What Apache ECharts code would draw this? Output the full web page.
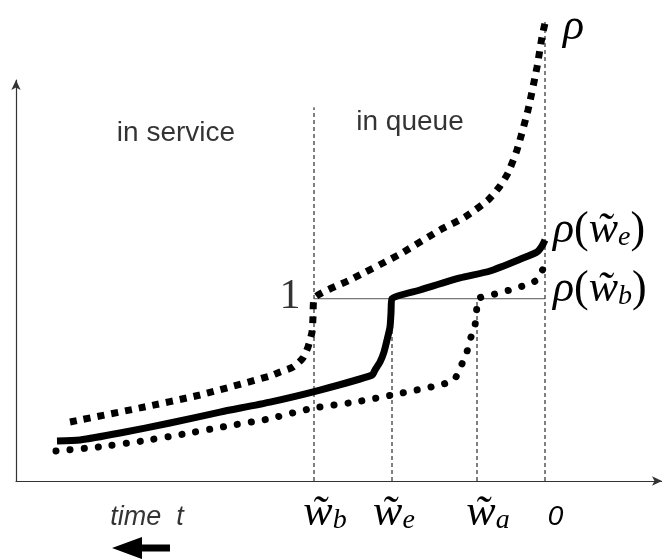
<!DOCTYPE html>
<html>
<head>
<meta charset="utf-8">
<style>
  html, body { margin: 0; padding: 0; background: #fff; }
  #chart { width: 662px; height: 559px; }
</style>
<script src="https://cdn.jsdelivr.net/npm/echarts@6/dist/echarts.min.js"></script>
</head>
<body>
<div id="chart"></div>
<script>
// time axis: 0 is "now", negative values lie further back in time
const tickValues = [-23.1, -15.3, -6.8, 0]
const tickLabels = [
  '{gap|}{w|w\u0303}{sb|b}',
  '{gapS|}{w|w\u0303}{s|e}',
  '{gap|}{w|w\u0303}{s|a}',
  '{gapZ|}{z|0}'
]

// [t, rho]
const rhoCurve = [
  [-47.5, 0.324], [-40.5, 0.401], [-34.5, 0.472], [-27.5, 0.576], [-26.5, 0.598],
  [-25.2, 0.625], [-24.2, 0.675], [-23.7, 0.735], [-23.3, 0.817], [-23.2, 0.9],
  [-23.1, 1.0], [-19.5, 1.103], [-14.5, 1.245], [-10.5, 1.377], [-8.0, 1.448],
  [-5.7, 1.541], [-4.5, 1.618], [-3.7, 1.69], [-2.8, 1.816], [-1.7, 2.035],
  [-0.8, 2.271], [-0.3, 2.436], [0, 2.512]
]
const rhoWe = [
  [-48.8, 0.219], [-46.5, 0.225], [-42.5, 0.263], [-37.5, 0.318], [-32.5, 0.378],
  [-27.5, 0.433], [-22.5, 0.499], [-17.3, 0.581], [-17.0, 0.609], [-16.5, 0.653],
  [-16.1, 0.708], [-15.8, 0.773], [-15.5, 0.845], [-15.4, 0.922], [-15.3, 1.0],
  [-12.5, 1.048], [-8.5, 1.114], [-5.5, 1.152], [-2.2, 1.223], [-0.8, 1.256],
  [-0.3, 1.289], [0, 1.322]
]
const rhoWb = [
  [-48.9, 0.165], [-44.6, 0.187], [-40.3, 0.219], [-36.1, 0.258], [-31.7, 0.302],
  [-27.7, 0.34], [-23.2, 0.4], [-19.0, 0.433], [-14.8, 0.477], [-10.5, 0.527],
  [-9.1, 0.554], [-8.5, 0.62], [-7.9, 0.691], [-7.5, 0.773], [-7.0, 0.856],
  [-6.85, 0.922], [-6.7, 1.0], [-5.0, 1.026], [-3.5, 1.048], [-2.2, 1.07],
  [-0.8, 1.103], [-0.2, 1.163], [0, 1.185]
]

// guide lines: [t, rho from, rho to]
const guides = [
  [-23.1, 0, 2.05],
  [-15.3, 0, 1],
  [-6.8, 0, 1],
  [0, 0, 2.52]
]
const levelOne = [[-23.1, 1], [0, 1]]

// text anchors in data space
const notes = [
  ['in service', -36.9, 1.91, 'sans'],
  ['in queue', -13.5, 1.97, 'sans'],
  ['1', -25.5, 1.01, 'serif'],
  ['time  t', -39.8, -0.2, 'time']
]
const arrowPts = [[-37.5, -0.368], [-41.8, -0.368]]

const serif = 'Liberation Serif'
const sans = 'Liberation Sans'

const mathRich = {
  r: { fontFamily: serif, fontStyle: 'italic', fontSize: 44, color: '#000', verticalAlign: 'bottom', lineHeight: 44 },
  p: { fontFamily: serif, fontSize: 44, color: '#000', verticalAlign: 'bottom', lineHeight: 44 },
  w: { fontFamily: serif, fontStyle: 'italic', fontSize: 44, color: '#000', verticalAlign: 'bottom', lineHeight: 44 },
  s: { fontFamily: serif, fontStyle: 'italic', fontSize: 28, color: '#000', verticalAlign: 'bottom', lineHeight: 14 },
  sb: { fontFamily: serif, fontStyle: 'italic', fontSize: 28, color: '#000', verticalAlign: 'bottom', lineHeight: 12 }
}

const noteStyles = {
  sans: { fontFamily: sans, fontSize: 28 },
  serif: { fontFamily: serif, fontSize: 42 },
  time: { fontFamily: sans, fontSize: 27, fontStyle: 'italic' }
}

function curve(name, data, lineStyle, label, offset) {
  return {
    name,
    type: 'line',
    data,
    clip: false,
    showSymbol: false,
    symbol: 'none',
    smooth: 0.2,
    z: 5,
    lineStyle: Object.assign({ color: '#000' }, lineStyle),
    endLabel: {
      show: true,
      formatter: () => label,
      offset,
      distance: 8,
      rich: mathRich
    }
  }
}

const series = [
  curve('rho', rhoCurve, { width: 7, type: [7, 7], cap: 'butt' }, '{r|\u03c1}', [10, 4]),
  curve('rho(we)', rhoWe, { width: 7, join: 'round' }, '{r|\u03c1}{p|(}{w|w\u0303}{s|e}{p|)}', [0, -10]),
  curve('rho(wb)', rhoWb, { width: 7, type: [0.1, 14], cap: 'round' }, '{r|\u03c1}{p|(}{w|w\u0303}{sb|b}{p|)}', [0, 24])
]

guides.forEach(([t, a, b]) => {
  series.push({
    type: 'line',
    data: [[t, a], [t, b]],
    clip: false,
    showSymbol: false,
    symbol: 'none',
    z: 2,
    lineStyle: { color: '#000', width: 1, type: [4, 3] }
  })
})

series.push({
  type: 'line',
  data: levelOne,
  showSymbol: false,
  symbol: 'none',
  z: 2,
  lineStyle: { color: '#555', width: 1 }
})

series.push({
  type: 'scatter',
  clip: false,
  symbolSize: 0,
  data: notes.map(([text, t, v, kind]) => ({
    value: [t, v],
    label: Object.assign({
      show: true, position: 'inside', color: '#000', textBorderWidth: 0, formatter: text
    }, noteStyles[kind])
  }))
})

series.push({
  type: 'line',
  clip: false,
  showSymbol: true,
  symbol: 'none',
  z: 5,
  lineStyle: { color: '#000', width: 7 },
  data: [
    { value: arrowPts[0] },
    { value: arrowPts[1], symbol: 'triangle', symbolSize: [22, 30], symbolRotate: 90, itemStyle: { color: '#000' } }
  ]
})

const chart = echarts.init(document.getElementById('chart'), null, { renderer: 'canvas' })

chart.setOption({
  animation: false,
  backgroundColor: '#fff',
  grid: { left: 16, right: 0, top: 80, bottom: 78, containLabel: false, outerBoundsMode: 'none' },
  xAxis: {
    type: 'value',
    min: -52.9,
    max: 11.7,
    splitLine: { show: false },
    axisTick: { show: false },
    axisLine: {
      show: true,
      onZero: false,
      symbol: ['none', 'arrow'],
      symbolSize: [7, 10],
      lineStyle: { color: '#333', width: 1.2 }
    },
    axisLabel: {
      customValues: tickValues,
      margin: 10,
      formatter: (v) => tickLabels[tickValues.indexOf(v)],
      rich: Object.assign({
        z: { fontFamily: sans, fontStyle: 'italic', fontSize: 28, color: '#000', verticalAlign: 'bottom', lineHeight: 40 },
        gap: { width: 22, lineHeight: 40, verticalAlign: 'bottom' },
        gapS: { width: 4, lineHeight: 40, verticalAlign: 'bottom' },
        gapZ: { width: 21, lineHeight: 40, verticalAlign: 'bottom' }
      }, mathRich)
    }
  },
  yAxis: {
    type: 'value',
    min: 0,
    max: 2.2,
    splitLine: { show: false },
    axisTick: { show: false },
    axisLabel: { show: false },
    axisLine: {
      show: true,
      onZero: false,
      symbol: ['none', 'arrow'],
      symbolSize: [7, 10],
      lineStyle: { color: '#333', width: 1.2 }
    }
  },
  series
})
</script>
</body>
</html>
